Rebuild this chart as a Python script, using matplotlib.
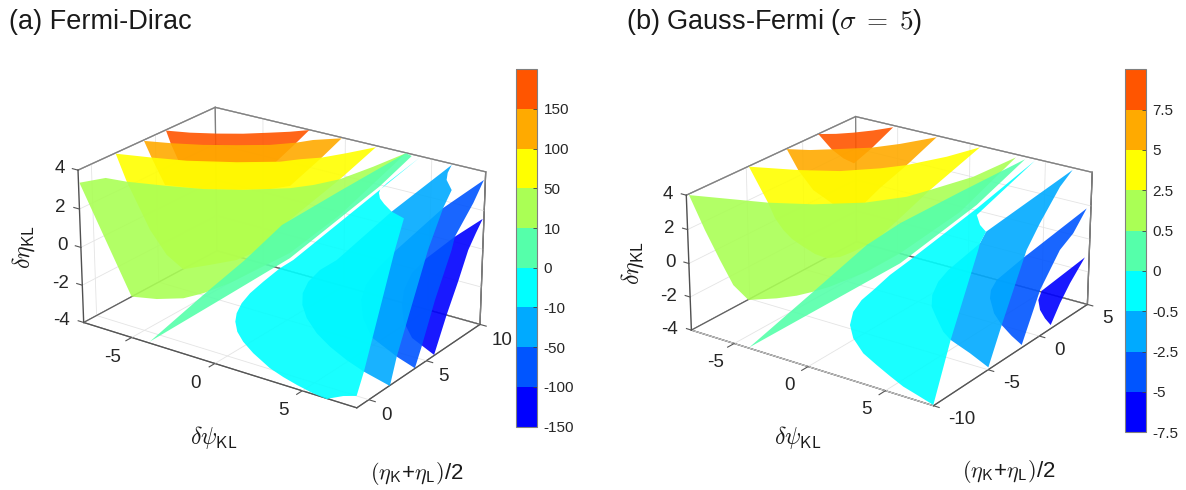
import matplotlib
matplotlib.use('Agg')
import matplotlib.pyplot as plt
from matplotlib.cm import ScalarMappable
from matplotlib.colors import BoundaryNorm, ListedColormap
from matplotlib.transforms import offset_copy
from mpl_toolkits.mplot3d import proj3d
from mpl_toolkits.mplot3d.art3d import Poly3DCollection

plt.rcParams['font.family'] = ['Liberation Sans', 'DejaVu Sans']
plt.rcParams['mathtext.fontset'] = 'cm'
plt.rcParams['axes.unicode_minus'] = False

W, H = 1186, 490

band_colors = ['#0000ff', '#0055ff', '#00aaff', '#00ffff', '#55ffaa',
               '#aaff55', '#ffff00', '#ffaa00', '#ff5500']
levels_a = [-150, -100, -50, -10, 0, 10, 50, 100, 150, 190]
levels_b = [-7.5, -5, -2.5, -0.5, 0, 0.5, 2.5, 5, 7.5, 9.7]
labels_a = ['-150', '-100', '-50', '-10', '0', '10', '50', '100', '150']
labels_b = ['-7.5', '-5', '-2.5', '-0.5', '0', '0.5', '2.5', '5', '7.5']

psi_ticks = [-5, 0, 5]
eta_ticks = [-4, -2, 0, 2, 4]
mean_ticks_a = [0, 5, 10]
mean_ticks_b = [-10, -5, 0, 5]

# level sheets as (dpsi, mean eta, deta) points
a_blue = [(9.09,7.96,2.52),(8.22,6.92,1.76),(7.43,5.73,0.89),(7.12,4.95,0.33),(7.18,4.17,-0.24),(7.48,3.54,-0.70),(8.01,2.88,-1.18),
          (8.80,2.34,-1.57),(10.24,1.93,-1.87),(9.83,3.64,-0.62),(9.53,5.09,0.43),(9.20,6.51,1.46),(9.13,7.30,2.04)]
a_mid = [(8.13,9.63,3.73),(6.90,8.00,2.55),(5.67,5.57,0.78),(5.35,4.78,0.20),(5.22,3.94,-0.40),(5.39,3.28,-0.89),(5.96,2.58,-1.40),
         (6.88,1.91,-1.89),(8.62,1.42,-2.24),(9.69,1.19,-2.40),(9.46,2.11,-1.74),(8.91,4.11,-0.28),(8.41,6.33,1.33),(8.22,6.92,1.76),
         (8.22,8.54,2.93)]
a_azure = [(6.15,9.95,3.96),(4.47,7.29,2.03),(3.10,4.64,0.10),(2.55,4.04,-0.34),(2.30,3.42,-0.79),(2.35,2.88,-1.18),(2.66,2.40,-1.53),
           (3.25,1.91,-1.88),(4.15,1.43,-2.24),(5.15,1.05,-2.51),(6.29,0.72,-2.75),(7.41,0.47,-2.93),(8.98,0.22,-3.11),(8.56,1.43,-2.23),
           (7.28,6.08,1.15),(6.90,8.00,2.55),(6.83,8.86,3.17),(6.31,9.24,3.45),(6.17,9.56,3.68)]
a_cyan = [(4.36,9.95,3.96),(0.93,4.14,-0.26),(0.50,3.64,-0.62),(0.05,2.89,-1.17),(-0.28,2.26,-1.63),(-0.41,1.75,-2.00),(-0.37,1.28,-2.34),
          (-0.19,0.92,-2.60),(0.20,0.54,-2.88),(0.78,0.21,-3.12),(1.61,-0.13,-3.36),(2.84,-0.51,-3.65),(3.73,-0.70,-3.78),(4.58,-0.84,-3.88),
          (5.50,-0.96,-3.97),(6.38,-1.03,-4.02),(6.51,-0.95,-3.97),(7.07,-0.71,-3.79),(7.69,-0.55,-3.67),(7.41,0.47,-2.93),(5.68,5.71,0.88),
          (5.26,7.14,1.92),(4.47,7.29,2.03),(3.88,7.54,2.21),(3.51,7.74,2.35),(3.31,7.96,2.51),(3.28,8.10,2.62),(3.43,8.46,2.88)]
a_teal = [(-3.93,-0.94,-3.95),(-2.61,1.62,-2.09),(-1.53,3.58,-0.67),(-0.68,5.50,0.72),(1.29,7.62,2.27),(3.54,9.98,3.99),(3.91,9.92,3.94),
          (3.17,8.27,2.74),(0.71,4.18,-0.23),(-1.60,1.62,-2.09)]
a_green = [(-13.01,4.96,0.33),(-11.69,5.49,0.72),(-10.38,5.58,0.78),(-8.13,5.85,0.98),(-5.94,6.15,1.20),(-3.77,6.57,1.51),(-1.37,7.18,1.95),
           (-0.26,7.58,2.24),(0.94,8.13,2.64),(2.27,9.04,3.30),(3.54,9.98,3.99),(1.98,6.58,1.51),(0.56,4.40,-0.07),(-1.60,2.44,-1.50),
           (-2.66,1.70,-2.04),(-3.54,1.25,-2.37),(-4.90,0.89,-2.63),(-6.29,0.67,-2.78)]
a_yellow = [(-11.98,6.71,1.61),(-9.82,6.96,1.79),(-7.78,7.23,1.98),(-5.00,7.73,2.35),(-2.71,8.24,2.72),(-1.74,8.57,2.96),(-0.65,8.88,3.19),
            (0.51,9.35,3.53),(1.84,9.93,3.95),(0.94,8.13,2.64),(-0.69,5.34,0.61),(-1.06,4.18,-0.23),(-1.95,3.48,-0.74),(-3.18,2.96,-1.12),
            (-4.44,2.45,-1.49),(-5.77,2.86,-1.19),(-7.47,3.73,-0.56),(-10.38,5.58,0.78)]
a_orange = [(-10.83,7.63,2.28),(-9.23,7.84,2.43),(-7.41,8.13,2.64),(-5.56,8.49,2.91),(-3.77,8.88,3.19),(-2.42,9.28,3.48),(-1.65,9.58,3.69),
            (-0.20,9.97,3.97),(-0.65,8.88,3.19),(-1.44,7.28,2.02),(-2.39,6.92,1.76),(-4.16,6.49,1.45),(-6.12,6.12,1.18),(-8.15,5.88,1.01),
            (-9.79,6.93,1.77)]
a_red = [(-9.95,8.36,2.81),(-8.54,8.54,2.94),(-7.03,8.80,3.13),(-5.59,9.09,3.34),(-4.17,9.44,3.59),(-3.13,9.70,3.78),(-2.15,9.99,3.99),
         (-2.47,9.20,3.42),(-2.92,8.18,2.68),(-4.25,7.82,2.42),(-5.60,7.54,2.21),(-6.99,7.30,2.04),(-8.24,7.14,1.92),(-9.21,7.80,2.40)]

b_blue = [(10.66,0.02,1.34),(9.57,-2.44,0.03),(9.72,-2.99,-0.26),(10.15,-3.49,-0.53),(10.69,-3.86,-0.73),(11.21,-4.13,-0.87),(10.95,-2.84,-0.18),
          (10.78,-1.62,0.47)]
b_mid = [(9.02,2.81,2.83),(7.43,-0.92,0.85),(6.82,-2.52,-0.01),(6.88,-3.15,-0.35),(7.13,-3.61,-0.59),(7.88,-4.35,-0.99),(8.69,-4.85,-1.26),
         (9.59,-5.28,-1.48),(10.41,-5.60,-1.65),(9.46,-2.42,0.04),(9.09,0.06,1.37),(9.20,1.19,1.97)]
b_azure = [(6.84,4.86,3.93),(4.44,0.01,1.34),(4.55,-0.73,0.94),(3.85,-2.69,-0.10),(3.75,-3.49,-0.53),(3.93,-4.30,-0.96),(4.34,-4.94,-1.30),
           (5.04,-5.48,-1.59),(5.88,-6.09,-1.91),(6.57,-6.41,-2.08),(8.04,-6.80,-2.29),(9.47,-7.24,-2.53),(8.69,-4.85,-1.26),(7.32,-0.42,1.11),
           (7.05,1.28,2.02),(6.78,3.69,3.30)]
b_cyan = [(4.39,4.89,3.94),(3.06,1.30,2.03),(1.36,-2.72,-0.12),(0.85,-3.86,-0.72),(0.53,-4.93,-1.30),(0.29,-5.66,-1.68),(0.29,-6.42,-2.09),
          (0.64,-7.18,-2.49),(1.33,-7.82,-2.84),(2.45,-8.45,-3.17),(3.60,-8.84,-3.38),(4.70,-9.19,-3.57),(5.78,-9.52,-3.74),(6.88,-9.74,-3.86),
          (7.97,-9.97,-3.98),(6.57,-6.41,-2.08),(4.71,-1.13,0.73),(4.55,-0.73,0.94),(4.44,0.01,1.34),(3.85,0.31,1.50),(3.28,0.84,1.78)]
b_teal = [(-4.00,-9.95,-3.98),(-2.74,-5.96,-1.85),(-1.67,-2.54,-0.02),(-0.69,-0.79,0.91),(1.43,1.93,2.36),(3.78,4.83,3.91),(2.88,1.42,2.09),
          (0.94,-3.05,-0.30)]
b_green = [(-14.46,-2.44,0.03),(-11.75,-2.02,0.26),(-9.26,-1.63,0.47),(-6.51,-1.01,0.79),(-3.56,-0.12,1.27),(-1.41,0.86,1.79),(-0.36,1.61,2.19),
           (1.56,3.03,2.95),(3.19,4.82,3.90),(2.23,0.76,1.74),(0.54,-2.50,0.00),(-0.57,-4.03,-0.82),(-2.01,-5.43,-1.56),(-2.74,-5.96,-1.85),
           (-3.50,-6.45,-2.10),(-4.52,-6.91,-2.35),(-6.06,-7.45,-2.64),(-7.58,-6.88,-2.34),(-9.49,-5.70,-1.71),(-11.78,-4.24,-0.93)]
b_yellow = [(-12.15,0.23,1.46),(-8.98,0.80,1.76),(-6.43,1.38,2.07),(-4.18,2.16,2.48),(-2.76,2.76,2.80),(-0.79,3.85,3.39),(0.73,4.91,3.95),
            (-0.36,1.61,2.19),(-1.26,-1.86,0.34),(-1.67,-2.54,-0.02),(-2.15,-3.12,-0.33),(-2.68,-3.63,-0.60),(-3.38,-3.91,-0.75),(-4.23,-3.85,-0.72),
            (-5.22,-3.62,-0.60),(-6.21,-3.36,-0.46),(-7.12,-2.98,-0.26),(-8.16,-2.42,0.04),(-9.23,-1.66,0.45)]
b_orange = [(-10.68,1.91,2.35),(-9.21,2.21,2.51),(-7.93,2.59,2.71),(-5.60,3.29,3.09),(-4.08,3.94,3.44),(-2.21,4.90,3.95),(-2.76,2.76,2.80),
            (-3.33,0.97,1.85),(-3.56,-0.12,1.27),(-4.35,-0.46,1.09),(-5.34,-0.70,0.96),(-7.16,-0.17,1.24),(-8.98,0.80,1.76)]
b_red = [(-9.46,3.33,3.11),(-8.39,3.61,3.26),(-7.39,3.95,3.44),(-6.30,4.38,3.67),(-5.23,4.88,3.94),(-5.57,3.25,3.07),(-5.95,2.07,2.43),
         (-6.81,2.21,2.51),(-7.93,2.59,2.71)]


def px_text(x, y, s, **kw):
    fig.text(x / W, 1 - y / H, s, **kw)


def tick_text(ax, pos, s, dx, dy, ha):
    # plain 2D text at the projected tick, so its extent is the drawn one
    x2, y2, _ = proj3d.proj_transform(pos[0], pos[1], pos[2], ax.get_proj())
    tr = offset_copy(ax.transData, fig=fig, x=dx, y=dy, units='dots')
    ax.text2D(x2, y2, s, transform=tr, ha=ha, va='center', fontsize=13.5, color='#262626')


def draw_panel(box_px, view, aspect, ylim, yticks, sheets, offs, y_mark):
    left, bottom, size = box_px
    ax = fig.add_axes([left / W, bottom / H, size / W, size / H], projection='3d', computed_zorder=False)
    ax.patch.set_visible(False)
    for i, (pts, c) in enumerate(sheets):
        ax.add_collection3d(Poly3DCollection([pts], facecolor=c, edgecolor='none', alpha=0.9, zorder=i + 1))
    ax.set_xlim3d(-8, 8)
    ax.set_ylim3d(*ylim)
    ax.set_zlim3d(-4, 4)
    ax.view_init(view[0], view[1])
    ax.set_proj_type('persp', focal_length=1.0)
    ax.set_box_aspect(aspect)
    ax.set_xticks([])
    ax.set_yticks([])
    ax.set_zticks([])
    for axis in (ax.xaxis, ax.yaxis, ax.zaxis):
        axis.set_pane_color((1, 1, 1, 1))
        axis.pane.set_edgecolor('#7f7f7f')
        axis.pane.set_linewidth(0.9)
        axis.line.set_color('#555555')
        axis.line.set_linewidth(0.9)
    y0, y1 = ylim
    grid_kw = dict(color='#e4e4e4', lw=0.6, zorder=0.3)
    tick_kw = dict(color='#555555', lw=0.8, zorder=0.6)
    for t in psi_ticks:
        ax.plot([t, t], [y0, y1], [-4, -4], **grid_kw)
        ax.plot([t, t], [y1, y1], [-4, 4], **grid_kw)
        ax.plot([t, t], [y0 - y_mark, y0], [-4, -4], **tick_kw)
        tick_text(ax, (t, y0, -4), str(t), offs[0][0], offs[0][1], 'center')
    for t in yticks:
        ax.plot([-8, 8], [t, t], [-4, -4], **grid_kw)
        ax.plot([-8, -8], [t, t], [-4, 4], **grid_kw)
        ax.plot([8, 8.35], [t, t], [-4, -4], **tick_kw)
        tick_text(ax, (8, t, -4), str(t), offs[1][0], offs[1][1], 'left')
    for t in eta_ticks:
        ax.plot([-8, -8], [y0, y1], [t, t], **grid_kw)
        ax.plot([-8, 8], [y1, y1], [t, t], **grid_kw)
        ax.plot([-8.35, -8], [y0, y0], [t, t], **tick_kw)
        tick_text(ax, (-8, y0, t), str(t), offs[2][0], offs[2][1], 'right')
    # box edges that run behind the sheets
    edge_kw = dict(color='#808080', lw=0.9, zorder=0.5)
    ax.plot([-8, -8], [y1, y1], [-4, 4], **edge_kw)
    ax.plot([-8, -8], [y0, y1], [4, 4], **edge_kw)
    ax.plot([-8, 8], [y1, y1], [4, 4], **edge_kw)
    ax.plot([8, 8], [y1, y1], [-4, 4], **edge_kw)
    ax.plot([-8, -8], [y0, y1], [-4, -4], color='#606060', lw=0.9, zorder=0.5)
    ax.plot([-8, 8], [y1, y1], [-4, -4], color='#606060', lw=0.9, zorder=0.5)
    ax.plot([-8, -8], [y0, y0], [-4, 4], color='#505050', lw=1.0, zorder=0.5)
    return ax


def add_cbar(rect, levels, labels):
    x0, y0, x1, y1 = rect
    cax = fig.add_axes([x0 / W, 1 - y1 / H, (x1 - x0) / W, (y1 - y0) / H])
    norm = BoundaryNorm(levels, len(band_colors))
    sm = ScalarMappable(norm=norm, cmap=ListedColormap(band_colors))
    cb = fig.colorbar(sm, cax=cax, ticks=levels[:-1], spacing='uniform')
    cb.minorticks_off()
    cb.ax.set_yticklabels(labels)
    cb.ax.tick_params(direction='in', length=3, width=0.6, color='#404040', labelsize=11, pad=5, labelcolor='#262626')
    cb.outline.set_edgecolor('#808080')
    cb.outline.set_linewidth(0.8)


fig = plt.figure(figsize=(W / 100, H / 100), dpi=100)

sheet_colors = ['#0000ff', '#0055ff', '#00aaff', '#00ffff', '#ff5500', '#ffaa00', '#ffff00', '#aaff55', '#55ffaa']
sheets_a = list(zip([a_blue, a_mid, a_azure, a_cyan, a_red, a_orange, a_yellow, a_green, a_teal], sheet_colors))
sheets_b = list(zip([b_blue, b_mid, b_azure, b_cyan, b_red, b_orange, b_yellow, b_green, b_teal], sheet_colors))

draw_panel((64.95, 25.0, 422.0), (22.979, -54.938), (3.1723, 2.1719, 1.5836), (-1, 10), mean_ticks_a, sheets_a,
           ((-19, -20), (12, -16), (-13.5, 1.5)), 0.45)
draw_panel((677.14, 24.06, 418.2), (22.793, -54.952), (2.7656, 2.6658, 1.3708), (-10, 5), mean_ticks_b, sheets_b,
           ((-19, -19), (15, -14), (-13.5, 1)), 0.55)

add_cbar((515.5, 69.3, 536.5, 426.5), levels_a, labels_a)
add_cbar((1124.5, 69.3, 1145.7, 432.3), levels_b, labels_b)

title_kw = dict(fontsize=19.5, color='#1a1a1a', va='center', ha='left')
px_text(9, 22, '(a) Fermi-Dirac', **title_kw)
px_text(626, 22, r'(b) Gauss-Fermi ($\sigma\;=\;5$)', **title_kw)

lab_kw = dict(fontsize=17, color='#1a1a1a', va='center', ha='center')
px_text(214, 437, r'$\delta\psi_{\mathsf{KL}}$', **lab_kw)
px_text(798, 437, r'$\delta\psi_{\mathsf{KL}}$', **lab_kw)
px_text(24, 247, r'$\delta\eta_{\mathsf{KL}}$', rotation=90, **lab_kw)
px_text(633, 263, r'$\delta\eta_{\mathsf{KL}}$', rotation=90, **lab_kw)
lab_kw['fontsize'] = 16
px_text(417, 473, r'$(\eta_{\mathsf{K}}$+$\eta_{\mathsf{L}})$/2', **lab_kw)
px_text(1009, 471, r'$(\eta_{\mathsf{K}}$+$\eta_{\mathsf{L}})$/2', **lab_kw)

fig.savefig('out.png', dpi=100)
